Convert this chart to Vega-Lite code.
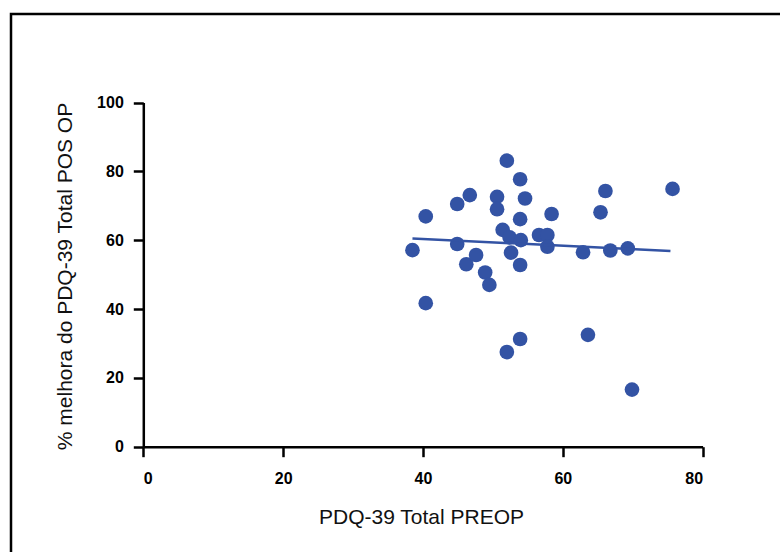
{
  "$schema": "https://vega.github.io/schema/vega-lite/v6.json",
  "autosize": {"type": "none"},
  "width": 773,
  "height": 542,
  "padding": {"left": 11, "top": 14, "right": -4, "bottom": -4},
  "background": "white",
  "config": {
    "view": {"stroke": "#000000", "strokeWidth": 2.5, "fill": "white"},
    "axis": {
      "domainColor": "#000000",
      "domainWidth": 2.5,
      "tickColor": "#000000",
      "tickWidth": 2.5,
      "tickSize": 10,
      "grid": false,
      "labelFont": "Liberation Sans",
      "labelFontSize": 16,
      "labelFontWeight": "bold",
      "labelColor": "#000000",
      "titleFont": "Liberation Sans",
      "titleFontSize": 21,
      "titleFontWeight": "normal",
      "titleColor": "#111111"
    }
  },
  "datasets": {
    "pts": [
      {"preop": 38.5, "melhora": 57.1},
      {"preop": 40.4, "melhora": 66.9},
      {"preop": 40.4, "melhora": 41.7},
      {"preop": 44.9, "melhora": 70.5},
      {"preop": 44.9, "melhora": 58.9},
      {"preop": 46.7, "melhora": 73.1},
      {"preop": 46.2, "melhora": 53.0},
      {"preop": 47.6, "melhora": 55.7},
      {"preop": 48.9, "melhora": 50.6},
      {"preop": 49.5, "melhora": 47.0},
      {"preop": 50.6, "melhora": 72.6},
      {"preop": 50.6, "melhora": 69.0},
      {"preop": 51.4, "melhora": 63.0},
      {"preop": 52.0, "melhora": 83.1},
      {"preop": 52.0, "melhora": 27.5},
      {"preop": 52.4, "melhora": 60.8},
      {"preop": 52.6, "melhora": 56.4},
      {"preop": 53.9, "melhora": 77.7},
      {"preop": 53.9, "melhora": 66.1},
      {"preop": 54.0, "melhora": 60.0},
      {"preop": 53.9, "melhora": 52.8},
      {"preop": 53.9, "melhora": 31.3},
      {"preop": 54.6, "melhora": 72.1},
      {"preop": 56.6, "melhora": 61.5},
      {"preop": 57.8, "melhora": 61.5},
      {"preop": 57.8, "melhora": 58.1},
      {"preop": 58.4, "melhora": 67.6},
      {"preop": 62.9, "melhora": 56.5},
      {"preop": 63.6, "melhora": 32.5},
      {"preop": 65.4, "melhora": 68.1},
      {"preop": 66.1, "melhora": 74.3},
      {"preop": 66.8, "melhora": 57.0},
      {"preop": 69.3, "melhora": 57.6},
      {"preop": 69.9, "melhora": 16.6},
      {"preop": 75.7, "melhora": 74.9}
    ],
    "fit": [
      {"preop": 38.5, "melhora": 60.5},
      {"preop": 75.4, "melhora": 56.85}
    ]
  },
  "layer": [
    {
      "data": {"name": "pts"},
      "mark": {"type": "circle", "size": 215, "color": "#3353a4", "opacity": 1},
      "encoding": {
        "x": {
          "field": "preop",
          "type": "quantitative",
          "scale": {"domain": [0, 80], "range": [132.3, 691.6], "nice": false, "zero": false},
          "axis": {
            "values": [0, 20, 40, 60, 80],
            "offset": -109.3,
            "labelPadding": 14,
            "title": "PDQ-39 Total PREOP",
            "titleX": 410,
            "titleY": 77,
            "titleAlign": "center",
            "titleBaseline": "alphabetic",
            "titleAngle": 0
          }
        },
        "y": {
          "field": "melhora",
          "type": "quantitative",
          "scale": {"domain": [0, 100], "range": [432.7, 88.5], "nice": false, "zero": false},
          "axis": {
            "values": [0, 20, 40, 60, 80, 100],
            "offset": -132.3,
            "labelPadding": 10,
            "title": "% melhora do PDQ-39 Total POS OP",
            "titleX": -72,
            "titleY": 262,
            "titleAlign": "center",
            "titleBaseline": "alphabetic",
            "titleAngle": 270
          }
        }
      }
    },
    {
      "data": {"name": "fit"},
      "mark": {"type": "line", "color": "#3353a4", "strokeWidth": 2.5},
      "encoding": {
        "x": {"field": "preop", "type": "quantitative"},
        "y": {"field": "melhora", "type": "quantitative"}
      }
    }
  ]
}
